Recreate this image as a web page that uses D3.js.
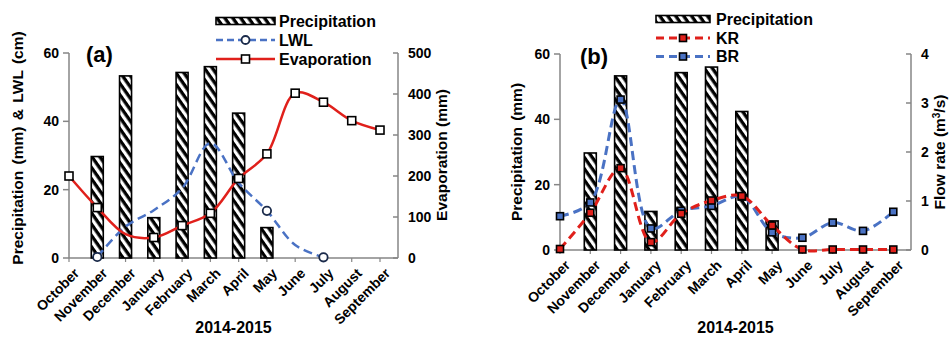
<!DOCTYPE html>
<html><head><meta charset="utf-8">
<script src="https://cdn.jsdelivr.net/npm/d3@7"></script>
<style>
body{margin:0;background:#fff;}
text{font-family:"Liberation Sans",Arial,sans-serif;font-weight:bold;fill:#000;}
</style></head>
<body><svg id="c" width="952" height="337"></svg>
<script>
const months = ["October","November","December","January","February","March","April","May","June","July","August","September"];
const precipitation = [null,29.7,53.3,11.8,54.3,56.0,42.4,8.9,null,null,null,null];
const lwl = [null,0.3,9.2,14.0,20.4,33.6,22.0,13.8,3.8,0.2,null,null];
const lwlMarker = [false,true,false,false,false,false,false,true,false,true,false,false];
const evaporation = [200,123,58,50,79,109,194,254,402,380,335,312];
const evapMarker = [true,true,false,true,true,true,true,true,true,true,true,true];
const kr = [0.02,0.76,1.67,0.16,0.74,1.01,1.10,0.50,0.01,0.01,0.01,0.01];
const br = [0.69,0.97,3.07,0.44,0.80,0.90,1.09,0.36,0.25,0.56,0.39,0.78];
const leftTicks = [0,20,40,60];
const evapTicks = [0,100,200,300,400,500];
const flowTicks = [0,1,2,3,4];

const RED="#e0201b", BLUE="#4a72c4", GRAY="#868686";
const svg = d3.select("#c");
const defs = svg.append("defs");
const pat = defs.append("pattern").attr("id","hatch").attr("patternUnits","userSpaceOnUse")
  .attr("width",6.5).attr("height",6.5).attr("patternTransform","rotate(55)");
pat.append("rect").attr("width",6.5).attr("height",6.5).attr("fill","#fff");
pat.append("rect").attr("width",6.5).attr("height",3.3).attr("fill","#000");

const curve = d3.curveCatmullRom.alpha(0.5);

function axesCommon(g, x, yL, yR, x0, x1, yb, ytop, lTicks, rTicks){
  g.append("line").attr("x1",x0).attr("x2",x0).attr("y1",yb).attr("y2",ytop).attr("stroke",GRAY).attr("stroke-width",1.5);
  lTicks.forEach(t=>{
    g.append("line").attr("x1",x0-6).attr("x2",x0).attr("y1",yL(t)).attr("y2",yL(t)).attr("stroke",GRAY).attr("stroke-width",1.5);
    g.append("text").attr("x",x0-10).attr("y",yL(t)).attr("dy","0.35em").attr("text-anchor","end").attr("font-size",14).text(t);
  });
  g.append("line").attr("x1",x1).attr("x2",x1).attr("y1",yb).attr("y2",ytop).attr("stroke",GRAY).attr("stroke-width",1.5);
  rTicks.forEach(t=>{
    g.append("line").attr("x1",x1-5).attr("x2",x1).attr("y1",yR(t)).attr("y2",yR(t)).attr("stroke",GRAY).attr("stroke-width",1.5);
    g.append("text").attr("x",x1+10).attr("y",yR(t)).attr("dy","0.35em").attr("text-anchor","start").attr("font-size",14).text(t);
  });
  g.append("line").attr("x1",x0).attr("x2",x1).attr("y1",yb).attr("y2",yb).attr("stroke",GRAY).attr("stroke-width",1.5);
  months.forEach(m=>{
    const px = x(m);
    g.append("line").attr("x1",px).attr("x2",px).attr("y1",yb).attr("y2",yb+4).attr("stroke",GRAY).attr("stroke-width",1.2);
    g.append("text").attr("transform",`translate(${px+4},${yb+9}) rotate(-45)`).attr("text-anchor","end")
      .attr("dy","0.72em").attr("font-size",14).text(m);
  });
  g.append("text").attr("x",(x0+x1)/2).attr("y",333).attr("text-anchor","middle").attr("font-size",16).text("2014-2015");
}

function bars(g,x,y,yb){
  g.selectAll(null).data(months.map((m,i)=>({m,v:precipitation[i]})).filter(d=>d.v!=null)).enter()
    .append("rect").attr("x",d=>x(d.m)-6).attr("width",12).attr("y",d=>y(d.v)).attr("height",d=>yb-y(d.v))
    .attr("fill","url(#hatch)").attr("stroke","#000").attr("stroke-width",1.6);
}

function square(g,cx,cy,fill,s){
  s = s||8;
  g.append("rect").attr("x",cx-s/2).attr("y",cy-s/2).attr("width",s).attr("height",s).attr("fill",fill).attr("stroke","#000").attr("stroke-width",1.6);
}

// ---------- Panel (a) ----------
{
  const g = svg.append("g");
  const x = d3.scalePoint().domain(months).range([69,380]);
  const yL = d3.scaleLinear().domain([0,60]).range([258,53]);
  const yR = d3.scaleLinear().domain([0,500]).range([258,53]);
  axesCommon(g,x,yL,yR,69,398,258,53,leftTicks,evapTicks);
  bars(g,x,yL,258);
  const lw = months.map((m,i)=>({m,v:lwl[i],mk:lwlMarker[i]})).filter(d=>d.v!=null);
  g.append("path").datum(lw).attr("d",d3.line().x(d=>x(d.m)).y(d=>yL(d.v)).curve(curve))
    .attr("fill","none").attr("stroke",BLUE).attr("stroke-width",2.5).attr("stroke-dasharray","9,5");
  lw.filter(d=>d.mk).forEach(d=>g.append("circle").attr("cx",x(d.m)).attr("cy",yL(d.v)).attr("r",4.2).attr("fill","#fff").attr("stroke","#1a2a4a").attr("stroke-width",1.8));
  const ev = months.map((m,i)=>({m,v:evaporation[i],mk:evapMarker[i]}));
  g.append("path").datum(ev).attr("d",d3.line().x(d=>x(d.m)).y(d=>yR(d.v)).curve(curve))
    .attr("fill","none").attr("stroke",RED).attr("stroke-width",2.5);
  ev.filter(d=>d.mk).forEach(d=>square(g,x(d.m),yR(d.v),"#fff"));
  g.append("text").attr("x",86).attr("y",62).attr("font-size",22).text("(a)");
  g.append("text").attr("transform","translate(23,148) rotate(-90)").attr("text-anchor","middle").attr("font-size",15.5)
    .attr("word-spacing",2).text("Precipitation (mm) & LWL (cm)");
  g.append("text").attr("transform","translate(447,155) rotate(-90)").attr("text-anchor","middle").attr("font-size",15.5)
    .text("Evaporation (mm)");
  const lg = g.append("g");
  lg.append("rect").attr("x",216).attr("y",17.5).attr("width",59).attr("height",7).attr("fill","url(#hatch)").attr("stroke","#000").attr("stroke-width",1.6);
  lg.append("text").attr("x",279).attr("y",21).attr("dy","0.35em").attr("font-size",16).text("Precipitation");
  lg.append("line").attr("x1",216).attr("x2",275).attr("y1",40).attr("y2",40).attr("stroke",BLUE).attr("stroke-width",2.5).attr("stroke-dasharray","7,4");
  lg.append("circle").attr("cx",245.5).attr("cy",40).attr("r",4).attr("fill","#fff").attr("stroke","#1a2a4a").attr("stroke-width",1.8);
  lg.append("text").attr("x",279).attr("y",40).attr("dy","0.35em").attr("font-size",16).text("LWL");
  lg.append("line").attr("x1",216).attr("x2",275).attr("y1",59).attr("y2",59).attr("stroke",RED).attr("stroke-width",2.5);
  square(lg,245.5,59,"#fff");
  lg.append("text").attr("x",279).attr("y",59).attr("dy","0.35em").attr("font-size",16).text("Evaporation");
}

// ---------- Panel (b) ----------
{
  const g = svg.append("g");
  const x = d3.scalePoint().domain(months).range([560,893.3]);
  const yL = d3.scaleLinear().domain([0,60]).range([250,54]);
  const yR = d3.scaleLinear().domain([0,4]).range([250,54]);
  axesCommon(g,x,yL,yR,560,911,250,54,leftTicks,flowTicks);
  bars(g,x,yL,250);
  const b = months.map((m,i)=>({m,v:br[i]}));
  const k = months.map((m,i)=>({m,v:kr[i]}));
  const ln = d3.line().x(d=>x(d.m)).y(d=>yR(d.v)).curve(curve);
  g.append("path").datum(b).attr("d",ln).attr("fill","none").attr("stroke",BLUE).attr("stroke-width",3).attr("stroke-dasharray","9,5");
  g.append("path").datum(k).attr("d",ln).attr("fill","none").attr("stroke",RED).attr("stroke-width",3).attr("stroke-dasharray","9,5");
  b.forEach(d=>square(g,x(d.m),yR(d.v),BLUE,7));
  k.forEach(d=>square(g,x(d.m),yR(d.v),RED,7));
  g.append("text").attr("x",580).attr("y",64).attr("font-size",22).text("(b)");
  g.append("text").attr("transform","translate(522,152) rotate(-90)").attr("text-anchor","middle").attr("font-size",15.5)
    .attr("word-spacing",2).text("Precipitation (mm)");
  const fr = g.append("text").attr("transform","translate(945,152) rotate(-90)").attr("text-anchor","middle").attr("font-size",15.5);
  fr.append("tspan").text("Flow rate (m");
  fr.append("tspan").attr("baseline-shift","super").attr("font-size",10).text("3");
  fr.append("tspan").text("/s)");
  const lg = g.append("g");
  lg.append("rect").attr("x",656).attr("y",15.5).attr("width",54).attr("height",7).attr("fill","url(#hatch)").attr("stroke","#000").attr("stroke-width",1.6);
  lg.append("text").attr("x",716).attr("y",19).attr("dy","0.35em").attr("font-size",16).text("Precipitation");
  lg.append("line").attr("x1",656).attr("x2",710).attr("y1",38).attr("y2",38).attr("stroke",RED).attr("stroke-width",3).attr("stroke-dasharray","8,5");
  square(lg,683,38,RED,7);
  lg.append("text").attr("x",716).attr("y",38).attr("dy","0.35em").attr("font-size",16).text("KR");
  lg.append("line").attr("x1",656).attr("x2",710).attr("y1",56.5).attr("y2",56.5).attr("stroke",BLUE).attr("stroke-width",3).attr("stroke-dasharray","8,5");
  square(lg,683,56.5,BLUE,7);
  lg.append("text").attr("x",716).attr("y",56.5).attr("dy","0.35em").attr("font-size",16).text("BR");
}
</script></body></html>
